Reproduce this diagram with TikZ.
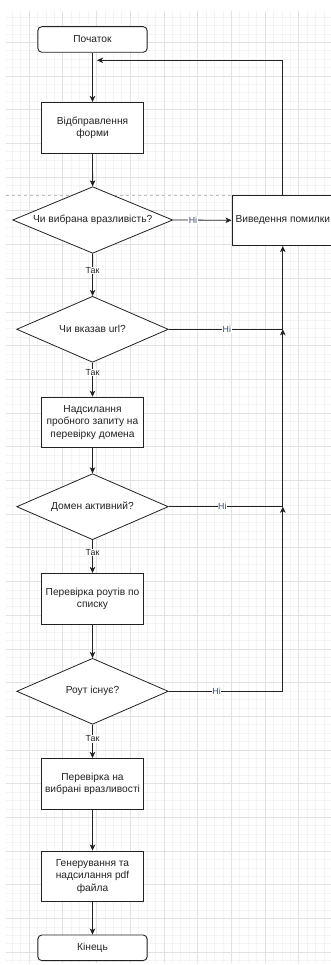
\documentclass[tikz,border=0pt]{standalone}
\usepackage{fontspec}
\setmainfont{Liberation Sans}
\usetikzlibrary{shapes.geometric,arrows.meta}

\definecolor{ink}{HTML}{222222}
\definecolor{gridminor}{HTML}{F4F4F4}
\definecolor{gridmajor}{HTML}{E2E2E2}
\definecolor{pagebreak}{HTML}{BDBDBD}
\definecolor{nolabel}{HTML}{3A4A70}

\begin{document}
\begin{tikzpicture}[x=1pt,y=-1pt,
  every node/.style={font=\fontsize{10.2}{12.5}\selectfont, text=ink},
  proc/.style={draw=ink, line width=0.9pt, fill=white, minimum width=101.6pt,
    minimum height=50.6pt, inner sep=1pt, align=center},
  term/.style={proc, rounded corners=4pt, minimum width=109.3pt, minimum height=25.6pt},
  decision/.style={diamond, draw=ink, line width=0.8pt, fill=white, shape aspect=2.4,
    minimum width=151.6pt, minimum height=66pt, inner sep=0pt},
  flow/.style={draw=ink, line width=0.8pt, -{Stealth[length=6pt,width=5.5pt,inset=1.5pt]}},
  yes/.style={fill=white, inner sep=0.6pt, font=\fontsize{8.8}{10}\selectfont},
  no/.style={yes, text=nolabel},
]
\useasboundingbox (0,0) rectangle (331,965);
\fill[white] (0,0) rectangle (331,965);

% background grid
\begin{scope}
  \clip (6,11) rectangle (331,963);
  \foreach \i in {0,...,38}
    \draw[gridminor, line width=0.7pt] ({12.25+8.425*\i},11) -- ++(0,952);
  \foreach \i in {0,...,112}
    \draw[gridminor, line width=0.7pt] (6,{17.025+8.425*\i}) -- ++(325,0);
  \foreach \i in {0,...,9}
    \draw[gridmajor, line width=0.8pt] ({29.1+33.7*\i},11) -- ++(0,952);
  \foreach \i in {1,...,28}
    \draw[gridmajor, line width=0.8pt] (6,{8.6+33.7*\i}) -- ++(325,0);
\end{scope}

% page break marker
\draw[pagebreak, dash pattern=on 3pt off 3pt, line width=0.6pt] (6,195) -- (331,195);

% steps
\node[term] (start) at (92.5,39.5) {Початок};
\node[proc] (send) at (92.5,127.7) {Відбправлення\\форми};
\node[decision, minimum width=160pt, minimum height=66.6pt] (chosen) at (92.7,220) {Чи вибрана вразливість?};
\node[proc] (err) at (282.8,220.3) {Виведення помилки};
\node[decision] (url) at (92.5,329.3) {Чи вказав url?};
\node[proc] (probe) at (92.5,422.5) {Надсилання\\пробного запиту на\\перевірку домена};
\node[decision] (alive) at (92.5,506.7) {Домен активний?};
\node[proc] (routes) at (92.5,598.7) {Перевірка роутів по\\списку};
\node[decision] (exists) at (92.5,691.3) {Роут існує?};
\node[proc] (vulns) at (92.5,783.7) {Перевірка на\\вибрані вразливості};
\node[proc] (report) at (92.5,876.3) {Генерування та\\надсилання pdf\\файла};
\node[term] (finish) at (92.5,947.8) {Кінець};

% main flow
\draw[flow] (start) -- (send);
\draw[flow] (send) -- (chosen);
\draw[flow] (chosen) -- node[yes, pos=0.4] {Так} (url);
\draw[flow] (url) -- node[yes, pos=0.29] {Так} (probe);
\draw[flow] (probe) -- (alive);
\draw[flow] (alive) -- node[yes, pos=0.38] {Так} (routes);
\draw[flow] (routes) -- (exists);
\draw[flow] (exists) -- node[yes, pos=0.43] {Так} (vulns);
\draw[flow] (vulns) -- (report);
\draw[flow] (report) -- (finish);

% error branches
\coordinate (j1) at (err.south |- url.east);
\coordinate (j2) at (err.south |- alive.east);
\coordinate (j3) at (err.south |- exists.east);
\draw[flow] (chosen.east) -- node[no, pos=0.34] {Ні} (err.west);
\draw[flow] (url.east) -- node[no, pos=0.51] {Ні} (j1) -- (err.south);
\draw[flow] (alive.east) -- node[no, pos=0.47] {Ні} (j2) -- (j1);
\draw[flow] (exists.east) -- node[no, pos=0.42] {Ні} (j3) -- (j2);

% return to the form
\coordinate (backend) at (97,60.3);
\draw[flow] (err.north) |- (backend);
\end{tikzpicture}
\end{document}
